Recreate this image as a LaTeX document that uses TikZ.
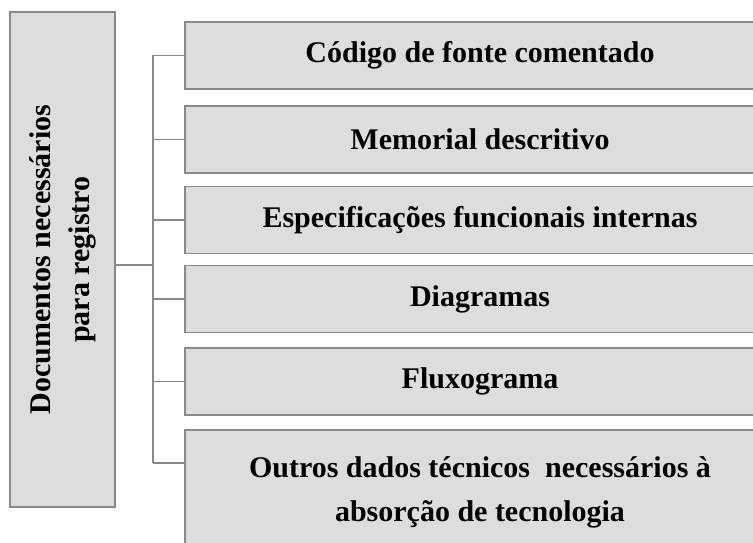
\documentclass[tikz,border=0pt]{standalone}
\usepackage{fontspec}
\setmainfont{Liberation Serif}
\definecolor{boxfill}{HTML}{DCDDDF}
\definecolor{boxline}{HTML}{88898B}
\tikzset{
  item/.style={draw=boxline, line width=1.6pt, fill=boxfill, rectangle, minimum width=590pt, minimum height=67pt, inner sep=0pt, font=\bfseries\fontsize{30}{36}\selectfont, align=center},
  link/.style={draw=boxline, line width=1.6pt}
}
\begin{document}
\begin{tikzpicture}[x=1pt, y=-1pt, line join=miter]
			\useasboundingbox (0,0) rectangle (753,543);
			\clip (0,0) rectangle (753,543);
			% left box
			\node[item, minimum width=105pt, minimum height=495pt] (doc) at (62.5,259.5) {\rotatebox{90}{\begin{tabular}{@{}c@{}}Documentos necessários\\[3pt]para registro\end{tabular}}};
			% right boxes
			\node[item] (b1) at (480,55.5) {Código de fonte comentado};
			\node[item] (b2) at (480,139.5) {Memorial descritivo};
			\node[item] (b3) at (480,220) {Especificações funcionais internas};
			\node[item] (b4) at (480,299) {Diagramas};
			\node[item] (b5) at (480,381.5) {Fluxograma};
			\node[item, minimum height=124pt, font=\bfseries\fontsize{30}{44}\selectfont] (b6) at (480,492) {Outros dados técnicos \ necessários à\\absorção de tecnologia};
			\path
			(153,265) coordinate (T)
			(185,463) coordinate (E)
			;
			% connectors
			\draw[link] (doc.east |- T) -- (T);
			\draw[link] (T |- b1.west) -- (b1.west);
			\draw[link] (T |- E) -- (E);
			\draw[link] (T |- b1.west) -- (T |- E);
			\foreach \n in {b2,b3,b4,b5}
				\draw[link] (T |- \n.west) -- (\n.west);
		\end{tikzpicture}
\end{document}
